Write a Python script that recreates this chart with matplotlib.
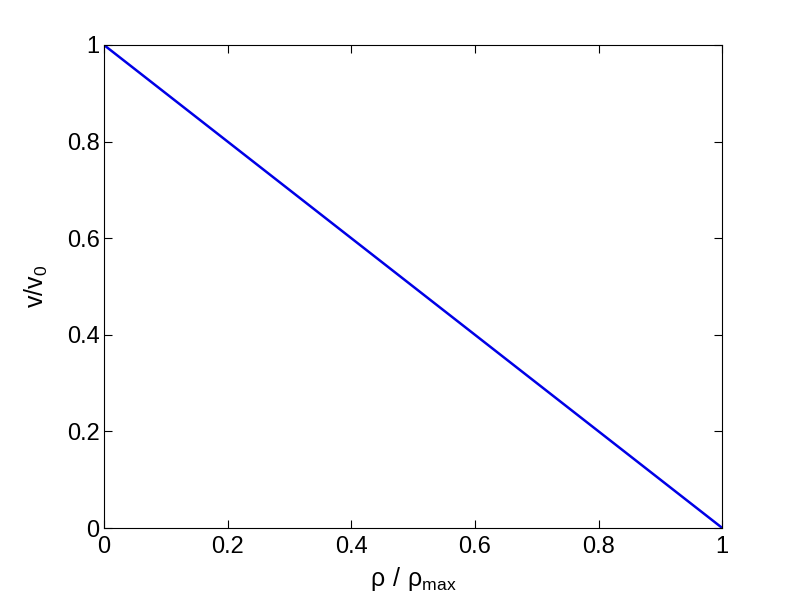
import matplotlib.pyplot as plt

# normalized density vs normalized velocity (Greenshields model)
rho = [0.0, 1.0]
v = [1.0, 0.0]
xticks = [0, 0.2, 0.4, 0.6, 0.8, 1]
yticks = [0, 0.2, 0.4, 0.6, 0.8, 1]
ticklabels = ['0', '0.2', '0.4', '0.6', '0.8', '1']

plt.rcParams['font.family'] = ['Liberation Sans', 'DejaVu Sans']
plt.rcParams['mathtext.fontset'] = 'custom'
plt.rcParams['mathtext.rm'] = 'Liberation Sans'

fig = plt.figure(figsize=(7.99, 5.99), dpi=100)
ax = fig.add_axes([0.130, 0.1185, 0.774, 0.8065])

ax.plot(rho, v, color='#0000e6', linewidth=1.8)

ax.set_xlim(0, 1)
ax.set_ylim(0, 1)
ax.set_xticks(xticks)
ax.set_yticks(yticks)
ax.set_xticklabels(ticklabels)
ax.set_yticklabels(ticklabels)
ax.tick_params(direction='in', top=True, right=True, length=6, width=0.8,
               labelsize=17, pad=3)
ax.tick_params(axis='x', pad=6)
for s in ax.spines.values():
    s.set_linewidth(0.8)

ax.set_xlabel(r'$\mathregular{\rho\ /\ \rho_{max}}$', fontsize=18, labelpad=5)
ax.set_ylabel(r'$\mathregular{v/v_0}$', fontsize=18, labelpad=12)

fig.savefig('out.png', dpi=100)
